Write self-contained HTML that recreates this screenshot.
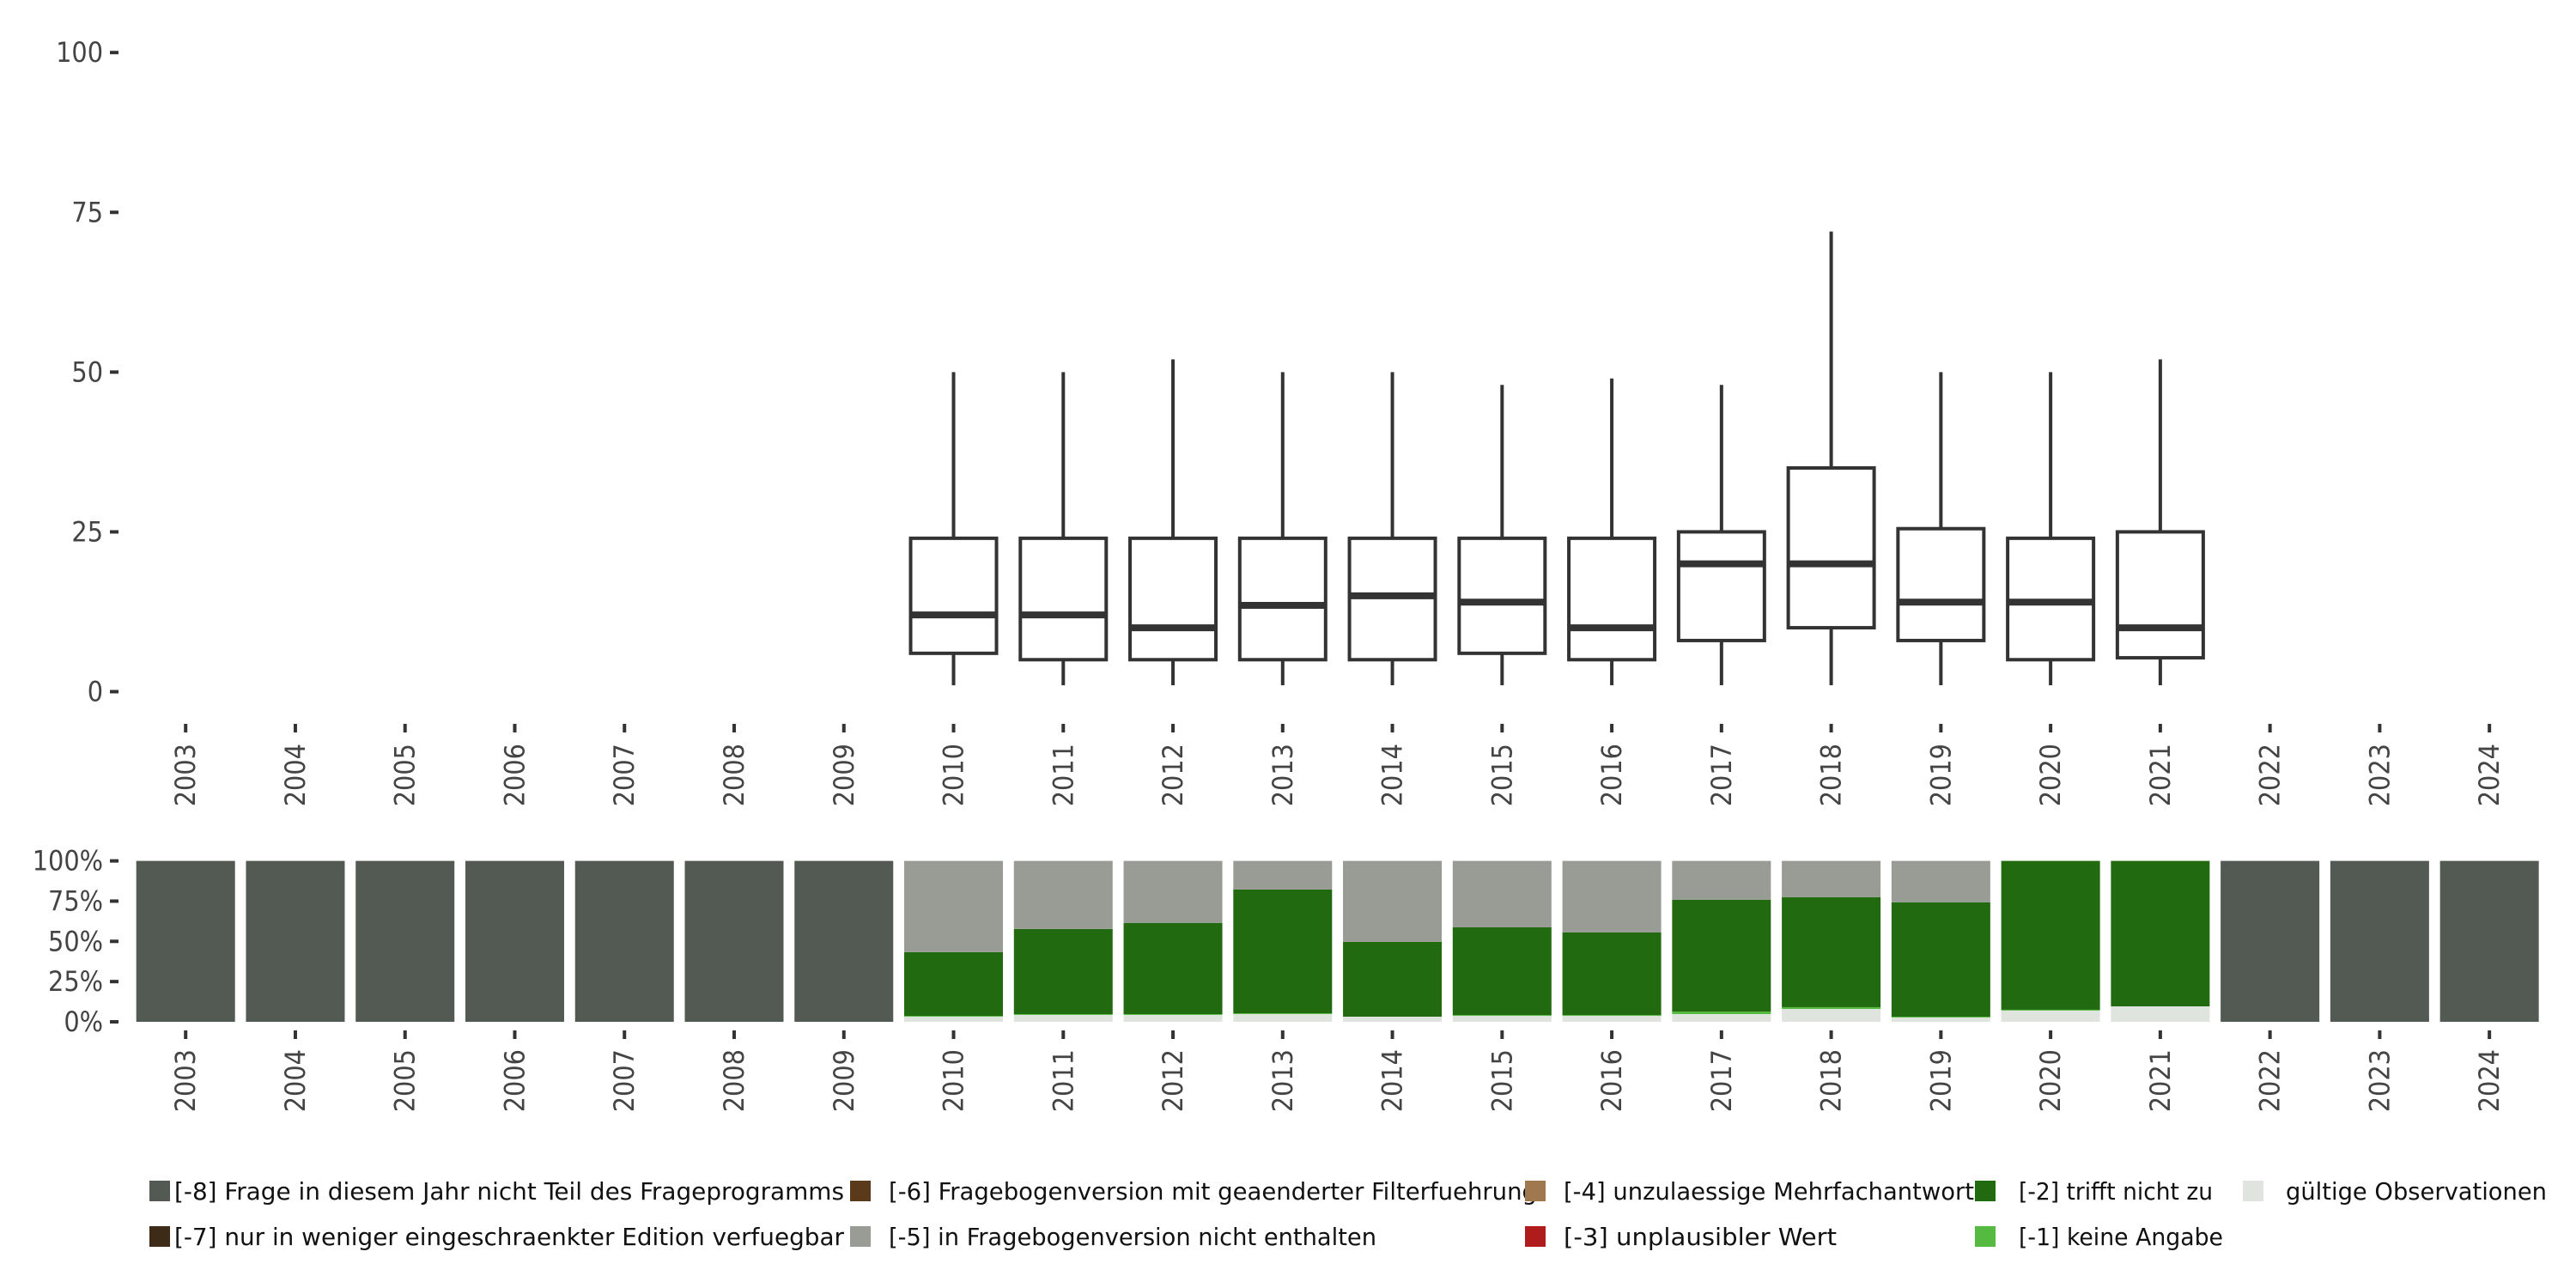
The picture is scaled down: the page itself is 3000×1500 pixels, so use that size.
<!DOCTYPE html>
<html><head><meta charset="utf-8"><style>
html,body{margin:0;padding:0;background:#fff}
svg{display:block}
text{font-family:"DejaVu Sans Condensed","DejaVu Sans","Liberation Sans",sans-serif;fill:#444}
</style></head><body>
<svg id="chart" width="3000" height="1500" viewBox="0 0 3000 1500" xmlns="http://www.w3.org/2000/svg">
<g id="topPanel"></g>
<g id="bottomPanel"></g>
<g id="legendPanel"></g>
</svg>
<script>
const years=[2003,2004,2005,2006,2007,2008,2009,2010,2011,2012,2013,2014,2015,2016,2017,2018,2019,2020,2021,2022,2023,2024];
const boxYears=[2010,2011,2012,2013,2014,2015,2016,2017,2018,2019,2020,2021];
const whiskerLow=[1,1,1,1,1,1,1,1,1,1,1,1];
const q1=[6,5,5,5,5,6,5,8,10,8,5,5.3];
const median=[12,12,10,13.5,15,14,10,20,20,14,14,10];
const q3=[24,24,24,24,24,24,24,25,35,25.5,24,25];
const whiskerHigh=[50,50,52,50,50,48,49,48,72,50,50,52];
const yTicks=[0,25,50,75,100];
const shareValid=[0,0,0,0,0,0,0,3.2,4.3,4.3,4.8,3.2,3.7,3.7,4.8,8.0,2.7,7.0,9.6,0,0,0];
const shareM1=[0,0,0,0,0,0,0,0.5,0.5,0.5,0.5,0,0.5,0.5,1.6,1.1,0.5,0.5,0,0,0,0];
const shareM2=[0,0,0,0,0,0,0,39.6,52.9,56.7,77.0,46.5,54.5,51.3,69.5,68.4,71.1,92.5,90.4,0,0,0];
const shareM5=[0,0,0,0,0,0,0,56.7,42.3,38.5,17.7,50.3,41.3,44.5,24.1,22.5,25.7,0,0,0,0,0];
const shareM8=[100,100,100,100,100,100,100,0,0,0,0,0,0,0,0,0,0,0,0,100,100,100];
const pctTicks=[0,25,50,75,100];
const pctLabels=["0%","25%","50%","75%","100%"];
const legendLabels=["[-8] Frage in diesem Jahr nicht Teil des Frageprogramms","[-7] nur in weniger eingeschraenkter Edition verfuegbar","[-6] Fragebogenversion mit geaenderter Filterfuehrung","[-5] in Fragebogenversion nicht enthalten","[-4] unzulaessige Mehrfachantwort","[-3] unplausibler Wert","[-2] trifft nicht zu","[-1] keine Angabe","gültige Observationen"];

const NS="http://www.w3.org/2000/svg";
function mk(tag,attrs,parent){const e=document.createElementNS(NS,tag);for(const k in attrs)e.setAttribute(k,attrs[k]);parent.appendChild(e);return e;}
const x0=216.2, step=127.76;
function xScale(yr){return x0+(yr-2003)*step;}
function yTop(v){return 805.5-v*7.443;}
function yBot(p){return 1190-p*1.874;}
const topG=document.getElementById('topPanel'), botG=document.getElementById('bottomPanel'), legG=document.getElementById('legendPanel');
const FS=32;

yTicks.forEach(v=>{
  const t=mk('line',{x1:128,x2:138,y1:yTop(v),y2:yTop(v),stroke:'#333','stroke-width':4},topG);
  
  
  const l=mk('text',{x:120,y:yTop(v)+11,'text-anchor':'end','font-size':FS},topG);l.textContent=v;
  
  
});
years.forEach(yr=>{
  const x=xScale(yr);
  const t=mk('line',{x1:x,x2:x,y1:843,y2:853,stroke:'#333','stroke-width':4},topG);
  
  
  const l=mk('text',{x:0,y:0,'text-anchor':'end','font-size':FS,transform:`translate(${x+11},866) rotate(-90)`},topG);l.textContent=yr;
  
  
  const t2=mk('line',{x1:x,x2:x,y1:1200,y2:1210,stroke:'#333','stroke-width':4},botG);
  
  
  const l2=mk('text',{x:0,y:0,'text-anchor':'end','font-size':FS,transform:`translate(${x+11},1222) rotate(-90)`},botG);l2.textContent=yr;
  
  
});
const bw=100;
boxYears.forEach((yr,i)=>{
  const x=xScale(yr);
  const g=mk('g',{},topG);
  
  
  mk('line',{x1:x,x2:x,y1:yTop(whiskerHigh[i]),y2:yTop(q3[i]),stroke:'#333','stroke-width':4},g);
  mk('line',{x1:x,x2:x,y1:yTop(q1[i]),y2:yTop(whiskerLow[i]),stroke:'#333','stroke-width':4},g);
  mk('rect',{x:x-bw/2,y:yTop(q3[i]),width:bw,height:yTop(q1[i])-yTop(q3[i]),fill:'#fff',stroke:'#333','stroke-width':4},g);
  mk('line',{x1:x-bw/2,x2:x+bw/2,y1:yTop(median[i]),y2:yTop(median[i]),stroke:'#333','stroke-width':8},g);
});
pctTicks.forEach((v,i)=>{
  const t=mk('line',{x1:128,x2:138,y1:yBot(v),y2:yBot(v),stroke:'#333','stroke-width':4},botG);
  
  
  const l=mk('text',{x:120,y:yBot(v)+11,'text-anchor':'end','font-size':FS},botG);l.textContent=pctLabels[i];
  
  
});
const series=[[shareValid,'#e0e4df','valid'],[shareM1,'#55bb40','m1'],[shareM2,'#216a10','m2'],[shareM5,'#999c95','m5'],[shareM8,'#535a53','m8']];
const barW=115;
years.forEach((yr,j)=>{
  let cum=0;const x=xScale(yr);
  series.forEach(s=>{
    const v=s[0][j];if(v<=0)return;
    const r=mk('rect',{x:x-barW/2,y:yBot(cum+v),width:barW,height:yBot(cum)-yBot(cum+v),fill:s[1]},botG);
    
    
    cum+=v;
  });
});
const legColors=['#535a53','#3d2a17','#5a3a1a','#999c95','#a07850','#b01c1c','#216a10','#55bb40','#e0e4df'];
const legX=[174,174,990,990,1776,1776,2300,2300,2612];
const legTextX=[203,203,1035,1035,1821,1821,2351,2351,2662];
const legW=[780,780,755,568,478,318,226,238,304];
legendLabels.forEach((lab,i)=>{
  const row=i<8?(i%2):0;
  const y=row?1440:1387;
  const g=mk('g',{},legG);
  
  
  mk('rect',{x:legX[i],y:y-12,width:24,height:24,fill:legColors[i]},g);
  const t=mk('text',{x:legTextX[i],y:y+10,'font-size':28,textLength:legW[i],lengthAdjust:'spacingAndGlyphs'},g);
  t.textContent=lab;t.style.fill='#111';
});
</script>
</body></html>
